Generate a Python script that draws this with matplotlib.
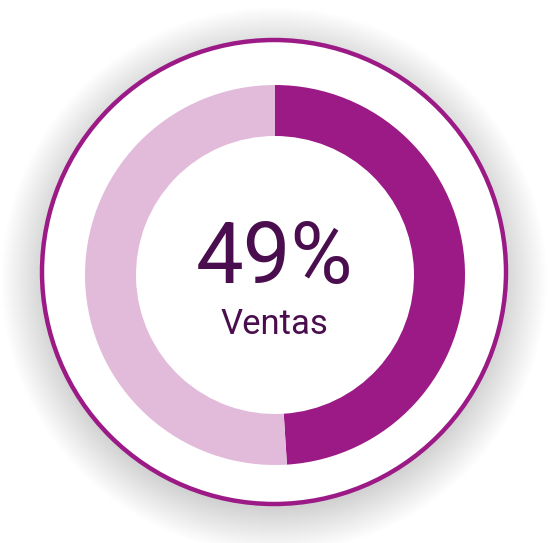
import numpy as np
import matplotlib
matplotlib.use("Agg")
import matplotlib.pyplot as plt
from matplotlib.patches import Circle

# data
labels = ["Ventas", "Resto"]
values = [49, 51]
colors = ["#9b1a86", "#e2bbdb"]
center_text = "49%"
sub_text = "Ventas"

fig = plt.figure(figsize=(5.49, 5.43), dpi=100)
ax = fig.add_axes([0, 0, 1, 1])
ax.set_xlim(0, 549)
ax.set_ylim(0, 543)
ax.axis("off")

cx, cy = 274, 271

# soft shadow behind outer disc
for k in range(45, 0, -1):
    ax.add_patch(Circle((cx, cy - 8), 228 + k, color="black",
                        alpha=0.0022, lw=0, zorder=1))

ax.add_patch(Circle((cx, cy), 232, facecolor="white", edgecolor="#9b1a86",
                    lw=3.2, zorder=2))

wedges, _ = ax.pie(values, colors=colors, startangle=90, counterclock=False,
                   center=(cx + 1, cy - 3), radius=190,
                   wedgeprops=dict(width=51, linewidth=0))
for w in wedges:
    w.set_zorder(3)

ax.set_xlim(0, 549)
ax.set_ylim(0, 543)
ax.set_aspect("equal")

ax.text(cx, cy + 13, center_text, ha="center", va="center", fontsize=61,
        color="#4a0e4e", family="Roboto", zorder=4)
ax.text(cx, cy - 53, sub_text, ha="center", va="center", fontsize=25,
        color="#4a0e4e", family="Roboto", zorder=4)

fig.savefig("out.png", dpi=100, facecolor="white")
